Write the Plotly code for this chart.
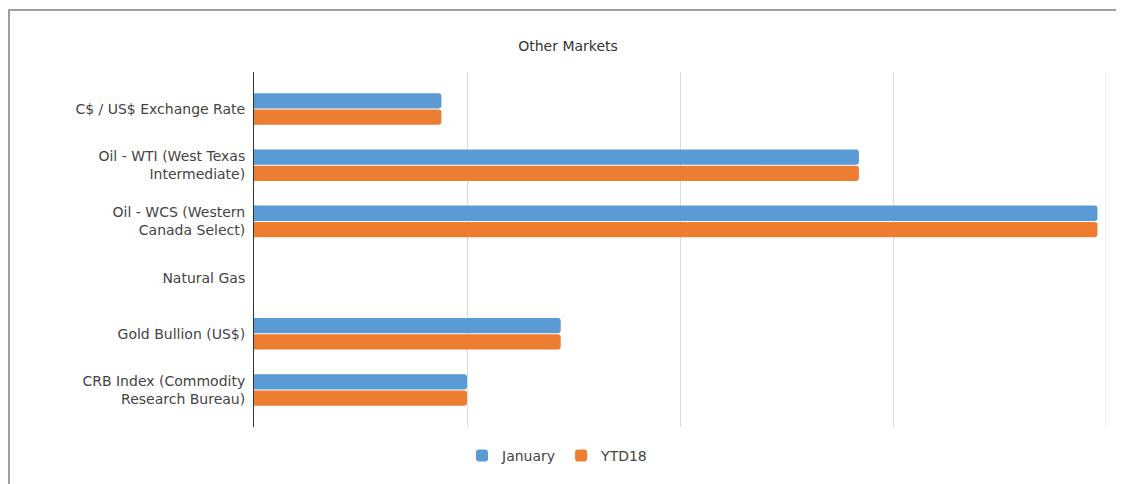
import plotly.graph_objects as go

categories = [
    "C$ / US$ Exchange Rate",
    "Oil - WTI (West Texas<br>Intermediate)",
    "Oil - WCS (Western<br>Canada Select)",
    "Natural Gas",
    "Gold Bullion (US$)",
    "CRB Index (Commodity<br>Research Bureau)",
]
january = [0.88, 2.84, 3.96, None, 1.44, 1.0]
ytd18 = [0.88, 2.84, 3.96, None, 1.44, 1.0]
x_max = 4

OFF = 8  # page body margin
W, H = 1124 - OFF, 484 - OFF
L, T = 254 - OFF, 72 - OFF
R = W - (1106 - OFF)
B = H - (432 - OFF)
pw, ph = W - L - R, H - T - B

def px(x):
    return (x - OFF - L) / pw

def py(y):
    return (H - B - (y - OFF)) / ph

FONT = "DejaVu Sans, Liberation Sans, Arial, sans-serif"

fig = go.Figure()
fig.add_trace(go.Bar(y=categories, x=january, name="January", orientation="h",
                     marker=dict(color="#5b9bd5", line=dict(width=0))))
fig.add_trace(go.Bar(y=categories, x=ytd18, name="YTD18", orientation="h",
                     marker=dict(color="#ed7d31", line=dict(width=0))))

pad = 0.158
fig.update_layout(
    width=W, height=H,
    margin=dict(l=L, r=R, t=T, b=B),
    paper_bgcolor="white", plot_bgcolor="white",
    font=dict(family=FONT, size=14, color="#444"),
    title=dict(text="Other Markets", xref="container", x=(568 - OFF) / W, xanchor="center",
               yref="container", y=1 - (46 - OFF) / H, yanchor="middle",
               font=dict(family=FONT, size=14, color="#333")),
    barmode="group", bargap=0.42, bargroupgap=0.06, barcornerradius=3,
    showlegend=True,
    legend=dict(orientation="h", x=px(462), xanchor="left", y=py(445), yanchor="top",
                font=dict(family=FONT, size=14, color="#444"), traceorder="normal", itemwidth=30),
    xaxis=dict(range=[0, x_max], showticklabels=False, showgrid=True, gridcolor="#dcdcdc",
               gridwidth=1, zeroline=False, showline=False, dtick=1, fixedrange=True),
    yaxis=dict(type="category", range=[5.5 + pad, -0.5 - pad], showline=True, linecolor="#333",
               linewidth=1, showgrid=False, ticks="", ticklabelstandoff=5, fixedrange=True),
    shapes=[
        dict(type="line", xref="x", yref="paper", x0=x_max, x1=x_max, y0=0, y1=1,
             line=dict(color="#dcdcdc", width=1), layer="below"),
        dict(type="line", xref="paper", yref="paper", x0=px(OFF), x1=px(1130), y0=py(OFF + 1), y1=py(OFF + 1),
             line=dict(color="#a0a0a0", width=2)),
        dict(type="line", xref="paper", yref="paper", x0=px(OFF + 1), x1=px(OFF + 1), y0=py(OFF + 1), y1=py(490),
             line=dict(color="#a0a0a0", width=2)),
    ],
)

fig.write_html("out.html")
